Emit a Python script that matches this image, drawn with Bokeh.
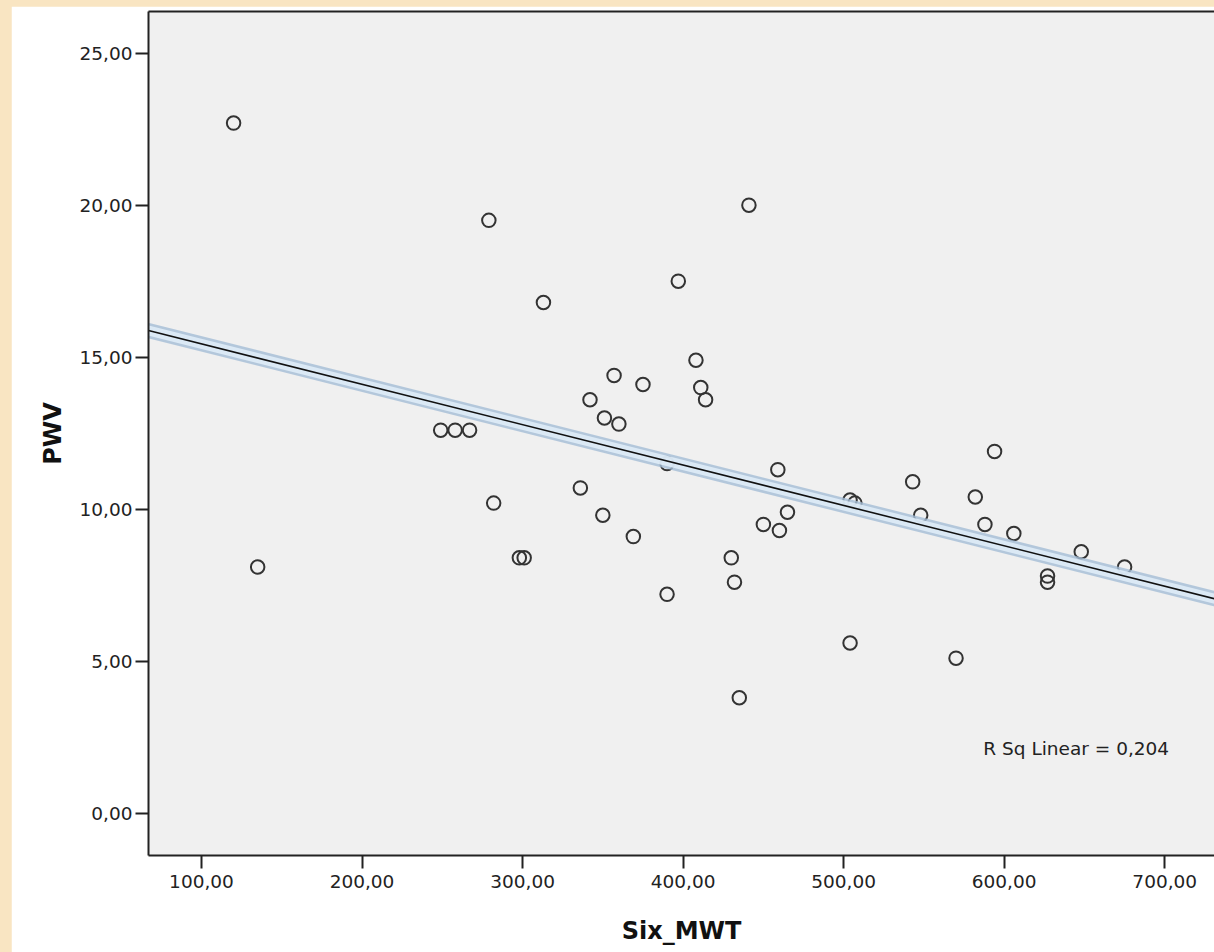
import numpy as np
from bokeh.plotting import figure
from bokeh.models import (Range1d, LinearAxis, FixedTicker, CustomJSTickFormatter,
                          Label, Spacer)
from bokeh.layouts import column, row
from bokeh.embed import file_html
from bokeh.resources import INLINE

# Six-minute walk distance (m) and pulse wave velocity (m/s) per subject
six_mwt = [120, 135, 249, 258, 267, 279, 282, 298, 301, 313, 336, 342, 350, 351,
           357, 360, 369, 375, 390, 390, 397, 408, 411, 414, 430, 432, 435, 441,
           450, 459, 460, 465, 504, 504, 507, 543, 548, 570, 582, 588, 594, 606,
           627, 627, 648, 675]
pwv = [22.7, 8.1, 12.6, 12.6, 12.6, 19.5, 10.2, 8.4, 8.4, 16.8, 10.7, 13.6, 9.8, 13.0,
       14.4, 12.8, 9.1, 14.1, 11.5, 7.2, 17.5, 14.9, 14.0, 13.6, 8.4, 7.6, 3.8, 20.0,
       9.5, 11.3, 9.3, 9.9, 10.3, 5.6, 10.2, 10.9, 9.8, 5.1, 10.4, 9.5, 11.9, 9.2,
       7.8, 7.6, 8.6, 8.1]

x_ticks = [100, 200, 300, 400, 500, 600, 700]
y_ticks = [0, 5, 10, 15, 20, 25]
x_title = "Six_MWT"
y_title = "PWV"
r_sq_text = "R Sq Linear = 0,204"

X_LO, X_HI = 67, 731
Y_LO, Y_HI = -1.39, 26.37

# least-squares fit line over the visible x span
slope, intercept = np.polyfit(six_mwt, pwv, 1)
fit_x = [X_LO, X_HI]
fit_y = [intercept + slope * v for v in fit_x]

FONT = "DejaVu Sans"
INK = "#222222"

p = figure(width=1203, height=946,
           x_range=Range1d(X_LO, X_HI), y_range=Range1d(Y_LO, Y_HI),
           output_backend="svg", toolbar_location=None,
           min_border_left=137, min_border_right=0,
           min_border_top=5, min_border_bottom=97,
           background_fill_color="#f0f0f0", border_fill_color="white",
           outline_line_color=None)
p.grid.visible = False

comma_fmt = CustomJSTickFormatter(code="return tick.toFixed(2).replace('.', ',');")

p.xaxis[0].ticker = FixedTicker(ticks=x_ticks)
p.yaxis[0].ticker = FixedTicker(ticks=y_ticks)
p.xaxis[0].axis_label = x_title
p.yaxis[0].axis_label = y_title

for ax in (p.xaxis[0], p.yaxis[0]):
    ax.formatter = comma_fmt
    ax.axis_line_width = 2
    ax.axis_line_color = INK
    ax.major_tick_line_width = 2
    ax.major_tick_line_color = INK
    ax.major_tick_out = 13
    ax.major_tick_in = 0
    ax.minor_tick_out = 0
    ax.minor_tick_in = 0
    ax.major_label_text_font = FONT
    ax.major_label_text_font_size = "18.5px"
    ax.major_label_text_color = INK
    ax.axis_label_text_font = FONT
    ax.axis_label_text_font_style = "bold"
    ax.axis_label_text_font_size = "24px"
    ax.axis_label_text_color = "#111111"

p.xaxis[0].major_label_standoff = 6
p.xaxis[0].axis_label_standoff = 26
p.yaxis[0].major_label_standoff = 3
p.yaxis[0].axis_label_standoff = 10

# top edge of the plot frame
top = LinearAxis(ticker=FixedTicker(ticks=[]), axis_line_width=2, axis_line_color=INK,
                 major_tick_out=0, major_tick_in=0, minor_tick_out=0, minor_tick_in=0,
                 major_label_standoff=0, major_label_text_font_size="0px")
p.add_layout(top, "above")

# observations
p.scatter(six_mwt, pwv, marker="circle", size=13.5, fill_alpha=0,
          line_color="#333333", line_width=2)

# fit line with its highlight band
p.line(fit_x, fit_y, line_width=15, line_color="#a4bdd6", line_alpha=0.8, line_cap="round")
p.line(fit_x, fit_y, line_width=10, line_color="#e2eef9", line_alpha=0.85, line_cap="round")
p.line(fit_x, fit_y, line_width=1.6, line_color="#111111")

p.add_layout(Label(x=587, y=2.13, text=r_sq_text, text_baseline="middle",
                   text_font=FONT, text_font_size="18.5px", text_color=INK))

BG = "#f9e5c2"
page = column(
    Spacer(width=1214, height=6, styles={"background-color": BG}),
    row(Spacer(width=11, height=946, styles={"background-color": BG}), p, spacing=0),
    spacing=0, styles={"background-color": BG},
)

open("out.html", "w").write(file_html(page, INLINE))
